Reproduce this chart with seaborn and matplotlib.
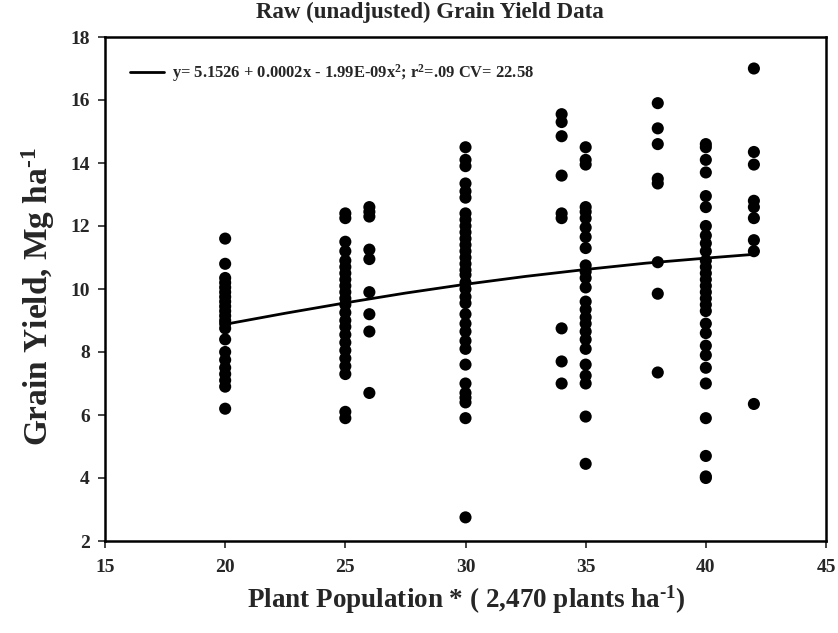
import numpy as np
import pandas as pd
import matplotlib
matplotlib.use("Agg")
import matplotlib.pyplot as plt
import seaborn as sns
from matplotlib.lines import Line2D

# ---- data ----
pop20 = [11.6, 10.8, 10.35, 10.2, 10.05, 9.9, 9.75, 9.6, 9.45, 9.3, 9.15, 9.0, 8.9, 8.75,
         8.4, 8.0, 7.75, 7.5, 7.3, 7.1, 6.9, 6.2]
pop25 = [12.4, 12.25, 11.5, 11.2, 10.9, 10.7, 10.5, 10.3, 10.1, 9.9, 9.7, 9.5, 9.25, 9.0,
         8.8, 8.55, 8.3, 8.05, 7.8, 7.55, 7.3, 6.1, 5.9]
pop26 = [12.6, 12.45, 12.3, 11.25, 10.95, 9.9, 9.2, 8.65, 6.7]
pop30 = [14.5, 14.1, 13.9, 13.35, 13.1, 12.9, 12.4, 12.2, 12.0, 11.8, 11.6, 11.4, 11.2,
         11.0, 10.8, 10.6, 10.45, 10.2, 10.0, 9.75, 9.55, 9.2, 8.9, 8.65, 8.35, 8.1, 7.6,
         7.0, 6.7, 6.55, 6.4, 5.9, 2.75]
pop34 = [15.55, 15.3, 14.85, 13.6, 12.4, 12.25, 8.75, 7.7, 7.0]
pop35 = [14.5, 14.1, 13.95, 12.6, 12.45, 12.25, 11.95, 11.65, 11.3, 10.75, 10.55, 10.35,
         10.05, 9.6, 9.35, 9.1, 8.9, 8.65, 8.4, 8.1, 7.6, 7.25, 7.0, 5.95, 4.45]
pop38 = [15.9, 15.1, 14.6, 13.5, 13.35, 10.85, 9.85, 7.35]
pop40 = [14.6, 14.5, 14.1, 13.7, 12.95, 12.6, 12.0, 11.7, 11.45, 11.2, 10.9, 10.7, 10.5,
         10.3, 10.1, 9.9, 9.7, 9.5, 9.3, 8.9, 8.6, 8.2, 7.9, 7.5, 7.0, 5.9, 4.7, 4.05, 4.0]
pop42 = [17.0, 14.35, 13.95, 12.8, 12.6, 12.25, 11.55, 11.2, 6.35]

populations = [20, 25, 26, 30, 34, 35, 38, 40, 42]
yields = [pop20, pop25, pop26, pop30, pop34, pop35, pop38, pop40, pop42]

# fitted curve, read at a few populations
fit_x = [20, 22.5, 25, 27.5, 30, 32.5, 35, 37.5, 40, 42]
fit_y = [8.88, 9.23, 9.56, 9.87, 10.15, 10.40, 10.62, 10.82, 10.98, 11.1]

legend_label = r"y= 5.1526 + 0.0002x - 1.99E-09x$^{\mathbf{2}}$; r$^{\mathbf{2}}$=.09 CV= 22.58"

x_ticks = [15, 20, 25, 30, 35, 40, 45]
y_ticks = [2, 4, 6, 8, 10, 12, 14, 16, 18]

df = pd.DataFrame({
    "pop": np.concatenate([[p] * len(v) for p, v in zip(populations, yields)]),
    "yield": np.concatenate(yields),
})
fit_df = pd.DataFrame({"pop": fit_x, "yield": fit_y})

# ---- style ----
sns.set_style("ticks")
plt.rcParams["font.family"] = ["Liberation Serif", "DejaVu Serif"]
plt.rcParams["font.weight"] = "bold"
plt.rcParams["mathtext.fontset"] = "custom"
plt.rcParams["mathtext.rm"] = "Liberation Serif:bold"
plt.rcParams["mathtext.bf"] = "Liberation Serif:bold"
plt.rcParams["mathtext.it"] = "Liberation Serif:bold"

W, H = 838, 633
fig = plt.figure(figsize=(W / 100, H / 100), dpi=100)
L, R, T, B = 105, 826, 37, 541
ax = fig.add_axes([L / W, 1 - B / H, (R - L) / W, (B - T) / H])

sns.scatterplot(data=df, x="pop", y="yield", ax=ax, color="black", s=76,
                edgecolor="none", linewidth=0, zorder=3)
sns.lineplot(data=fit_df, x="pop", y="yield", ax=ax, color="black", linewidth=2,
             zorder=2)

ax.set_xlim(15, 45)
ax.set_ylim(2, 18)
ax.set_xticks(x_ticks)
ax.set_yticks(y_ticks)
ax.tick_params(direction="out", length=5, width=1.2, labelsize=14, pad=6)
ax.tick_params(axis="x", pad=8)
for lab in ax.get_xticklabels() + ax.get_yticklabels():
    lab.set_fontweight("bold")
for sp in ax.spines.values():
    sp.set_visible(True)
    sp.set_linewidth(1.8)
    sp.set_color("black")

ax.set_xlabel("")
ax.set_ylabel("")
fig.text(430 / W, 1 - 12 / H, "Raw (unadjusted) Grain Yield Data", fontsize=16.5,
         fontweight="bold", ha="center", va="center")
fig.text(466 / W, 1 - 600 / H, "Plant Population * ( 2,470 plants ha$^{\\mathbf{\u20101}}$)",
         fontsize=19.5, fontweight="bold", ha="center", va="center")
fig.text(38 / W, 1 - 297 / H, "Grain Yield, Mg ha$^{\\mathbf{\u20101}}$", fontsize=24,
         fontweight="bold", ha="center", va="center", rotation=90)

handle = Line2D([0], [0], color="black", linewidth=2)
leg = ax.legend([handle], [legend_label], loc="center left", frameon=False,
                prop={"size": 11.9, "weight": "bold"}, handlelength=2.1,
                handletextpad=0.45, borderaxespad=0,
                bbox_to_anchor=((123 - L) / (R - L), (B - 73) / (B - T)))

fig.savefig("out.png", dpi=100)
